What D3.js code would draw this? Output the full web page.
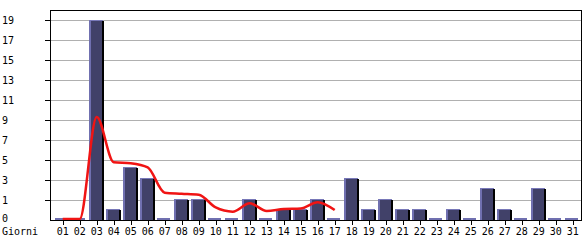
<!DOCTYPE html>
<html>
<head>
<meta charset="utf-8">
<script src="https://cdn.jsdelivr.net/npm/d3@7"></script>
<style>
  body { margin: 0; background: #fff; }
  text { font-family: "DejaVu Sans Mono", monospace; font-size: 10px; fill: #000; }
</style>
</head>
<body>
<div id="chart"></div>
<script>
// giorni del mese
const days = ["01","02","03","04","05","06","07","08","09","10","11","12","13","14","15","16",
  "17","18","19","20","21","22","23","24","25","26","27","28","29","30","31"];
// visite per giorno
const visits = [0,0,19,1,5,4,0,2,2,0,0,2,0,1,1,2,0,4,1,2,1,1,0,1,0,3,1,0,3,0,0];
// media (linea rossa), fino al giorno 17
const avgDays = ["01","02","03","04","05","06","07","08","09","10","11","12","13","14","15","16","17"];
const avgValues = [0,0,9.7,5.4,5.3,4.9,2.5,2.4,2.3,1.1,0.7,1.5,0.76,0.95,1.0,1.6,0.85];

const maxVal = 19;
const W = 585, H = 240;

const svg = d3.select("#chart").append("svg")
    .attr("width", W)
    .attr("height", H);

const x = d3.scaleBand()
    .domain(days)
    .range([54.2, 581.2]);

const y = d3.scaleLinear()
    .domain([0, maxVal])
    .range([220, 20]);

// griglia: 10 linee, etichette arrotondate per difetto
const gridVals = d3.range(1, 11).map(k => k * maxVal / 10);

svg.append("g")
    .selectAll("line")
    .data(gridVals)
    .enter().append("line")
    .attr("x1", 51)
    .attr("x2", 581)
    .attr("y1", d => Math.round(y(d)) + 0.5)
    .attr("y2", d => Math.round(y(d)) + 0.5)
    .attr("stroke", "#b0b0b0")
    .attr("stroke-width", 1);

// ticks a sinistra
svg.append("g")
    .selectAll("line")
    .data(gridVals)
    .enter().append("line")
    .attr("x1", 45)
    .attr("x2", 50)
    .attr("y1", d => Math.round(y(d)) + 0.5)
    .attr("y2", d => Math.round(y(d)) + 0.5)
    .attr("stroke", "#000");

svg.append("g")
    .selectAll("text")
    .data([0].concat(gridVals))
    .enter().append("text")
    .attr("x", 2)
    .attr("y", d => d === 0 ? 222 : Math.round(y(d)) + 4)
    .text(d => Math.floor(d));

// barre
const bars = svg.append("g")
    .selectAll("g")
    .data(visits.map((v, i) => ({ day: days[i], v: v })))
    .enter().append("g");

const bw = 15;

bars.filter(d => d.v > 0).each(function (d) {
    const g = d3.select(this);
    const bx = Math.round(x(d.day) + 0.8);
    const top = Math.round(y(d.v));
    const h = 220 - top;
    g.append("rect").attr("x", bx).attr("y", top).attr("width", bw - 2).attr("height", h).attr("fill", "#414169");
    g.append("rect").attr("x", bx + bw - 2).attr("y", top + 1).attr("width", 2).attr("height", h - 1).attr("fill", "#000");
    g.append("rect").attr("x", bx).attr("y", top).attr("width", 2).attr("height", h).attr("fill", "#7070b0");
    g.append("rect").attr("x", bx).attr("y", top).attr("width", bw - 1).attr("height", 1).attr("fill", "#7878b8");
});

bars.filter(d => d.v === 0)
    .append("rect")
    .attr("x", d => Math.round(x(d.day) + 1))
    .attr("y", 218)
    .attr("width", 13)
    .attr("height", 2)
    .attr("fill", "#7070b0");

// linea media
const line = d3.line()
    .x((d, i) => x(avgDays[i]) + x.bandwidth() / 2)
    .y(d => y(d) - 1)
    .curve(d3.curveMonotoneX);

svg.append("path")
    .datum(avgValues)
    .attr("d", line)
    .attr("fill", "none")
    .attr("stroke", "#f01414")
    .attr("stroke-width", 2.5);

// cornice
svg.append("rect")
    .attr("x", 50.5)
    .attr("y", 10.5)
    .attr("width", 531)
    .attr("height", 210)
    .attr("fill", "none")
    .attr("stroke", "#000");

// ticks asse x
svg.append("g")
    .selectAll("line")
    .data(days)
    .enter().append("line")
    .attr("x1", d => Math.round(x(d) + x.bandwidth() / 2) + 0.5)
    .attr("x2", d => Math.round(x(d) + x.bandwidth() / 2) + 0.5)
    .attr("y1", 220)
    .attr("y2", 225)
    .attr("stroke", "#000");

svg.append("g")
    .selectAll("text")
    .data(days)
    .enter().append("text")
    .attr("x", d => x(d) + x.bandwidth() / 2)
    .attr("y", 235)
    .attr("text-anchor", "middle")
    .text(d => d);

svg.append("text")
    .attr("x", 2)
    .attr("y", 235)
    .text("Giorni");
</script>
</body>
</html>
